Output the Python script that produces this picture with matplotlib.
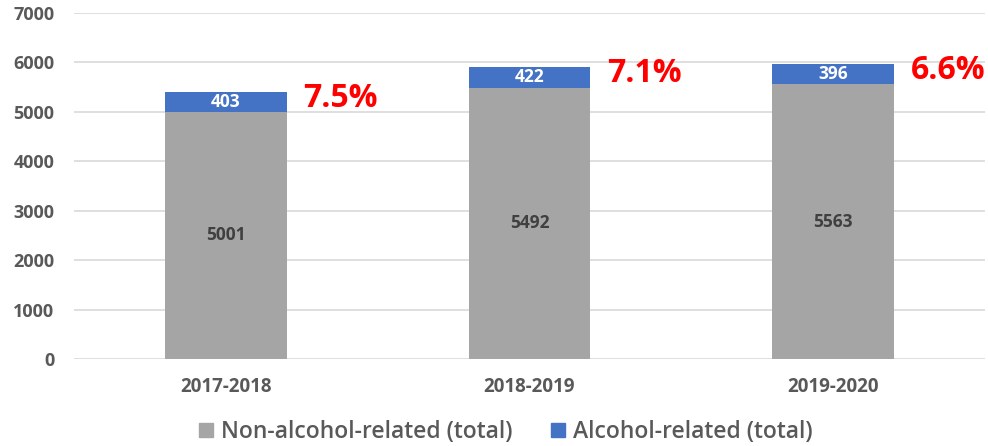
import matplotlib
matplotlib.use("Agg")
import matplotlib.pyplot as plt
from matplotlib.patches import Patch

categories = ["2017-2018", "2018-2019", "2019-2020"]
non_alcohol = [5001, 5492, 5563]
alcohol = [403, 422, 396]
pct_labels = ["7.5%", "7.1%", "6.6%"]
yticks = [0, 1000, 2000, 3000, 4000, 5000, 6000, 7000]

plt.rcParams['font.family'] = ['Open Sans', 'DejaVu Sans']

fig = plt.figure(figsize=(9.88, 4.46), dpi=100)
ax = fig.add_axes([74/988, 87/446, 911/988, 346/446])

gray = "#A5A5A5"
blue = "#4472C4"
x = list(range(len(categories)))
w = 0.4
ax.bar(x, non_alcohol, width=w, color=gray, zorder=3)
ax.bar(x, alcohol, width=w, bottom=non_alcohol, color=blue, zorder=3)

for i in x:
    ax.text(i, non_alcohol[i] / 2, str(non_alcohol[i]), ha='center', va='center',
            fontsize=12.5, fontweight='bold', color='#404040', zorder=4)
    ax.text(i, non_alcohol[i] + alcohol[i] / 2, str(alcohol[i]), ha='center', va='center',
            fontsize=12.5, fontweight='bold', color='white', zorder=4)
    ax.text(i + w / 2 + 0.055, non_alcohol[i] + alcohol[i] - 130, pct_labels[i],
            ha='left', va='center', fontsize=23, fontweight='bold', color='#FF0000', zorder=4)

ax.set_xlim(-0.5, 2.5)
ax.set_ylim(0, 7000)
ax.set_yticks(yticks)
ax.set_xticks(x)
ax.set_xticklabels(categories)
ax.yaxis.grid(True, color='#D9D9D9', linewidth=1.2, zorder=0)
ax.set_axisbelow(True)
for s in ax.spines.values():
    s.set_visible(False)
ax.tick_params(axis='both', length=0, labelsize=13.5, labelcolor='#595959')
ax.tick_params(axis='y', pad=14, labelsize=13)
ax.tick_params(axis='x', pad=13)
for lab in ax.get_xticklabels() + ax.get_yticklabels():
    lab.set_fontweight('bold')

handles = [Patch(color=gray, label='Non-alcohol-related (total)'),
           Patch(color=blue, label='Alcohol-related (total)')]
leg = fig.legend(handles=handles, loc='center', bbox_to_anchor=(506/988, 14/446), ncol=2,
                 frameon=False, handlelength=0.6, handleheight=0.6,
                 handletextpad=0.35, columnspacing=1.7,
                 prop={'size': 16.5, 'weight': 'semibold'})
for t in leg.get_texts():
    t.set_color('#595959')

fig.savefig("out.png", dpi=100)
